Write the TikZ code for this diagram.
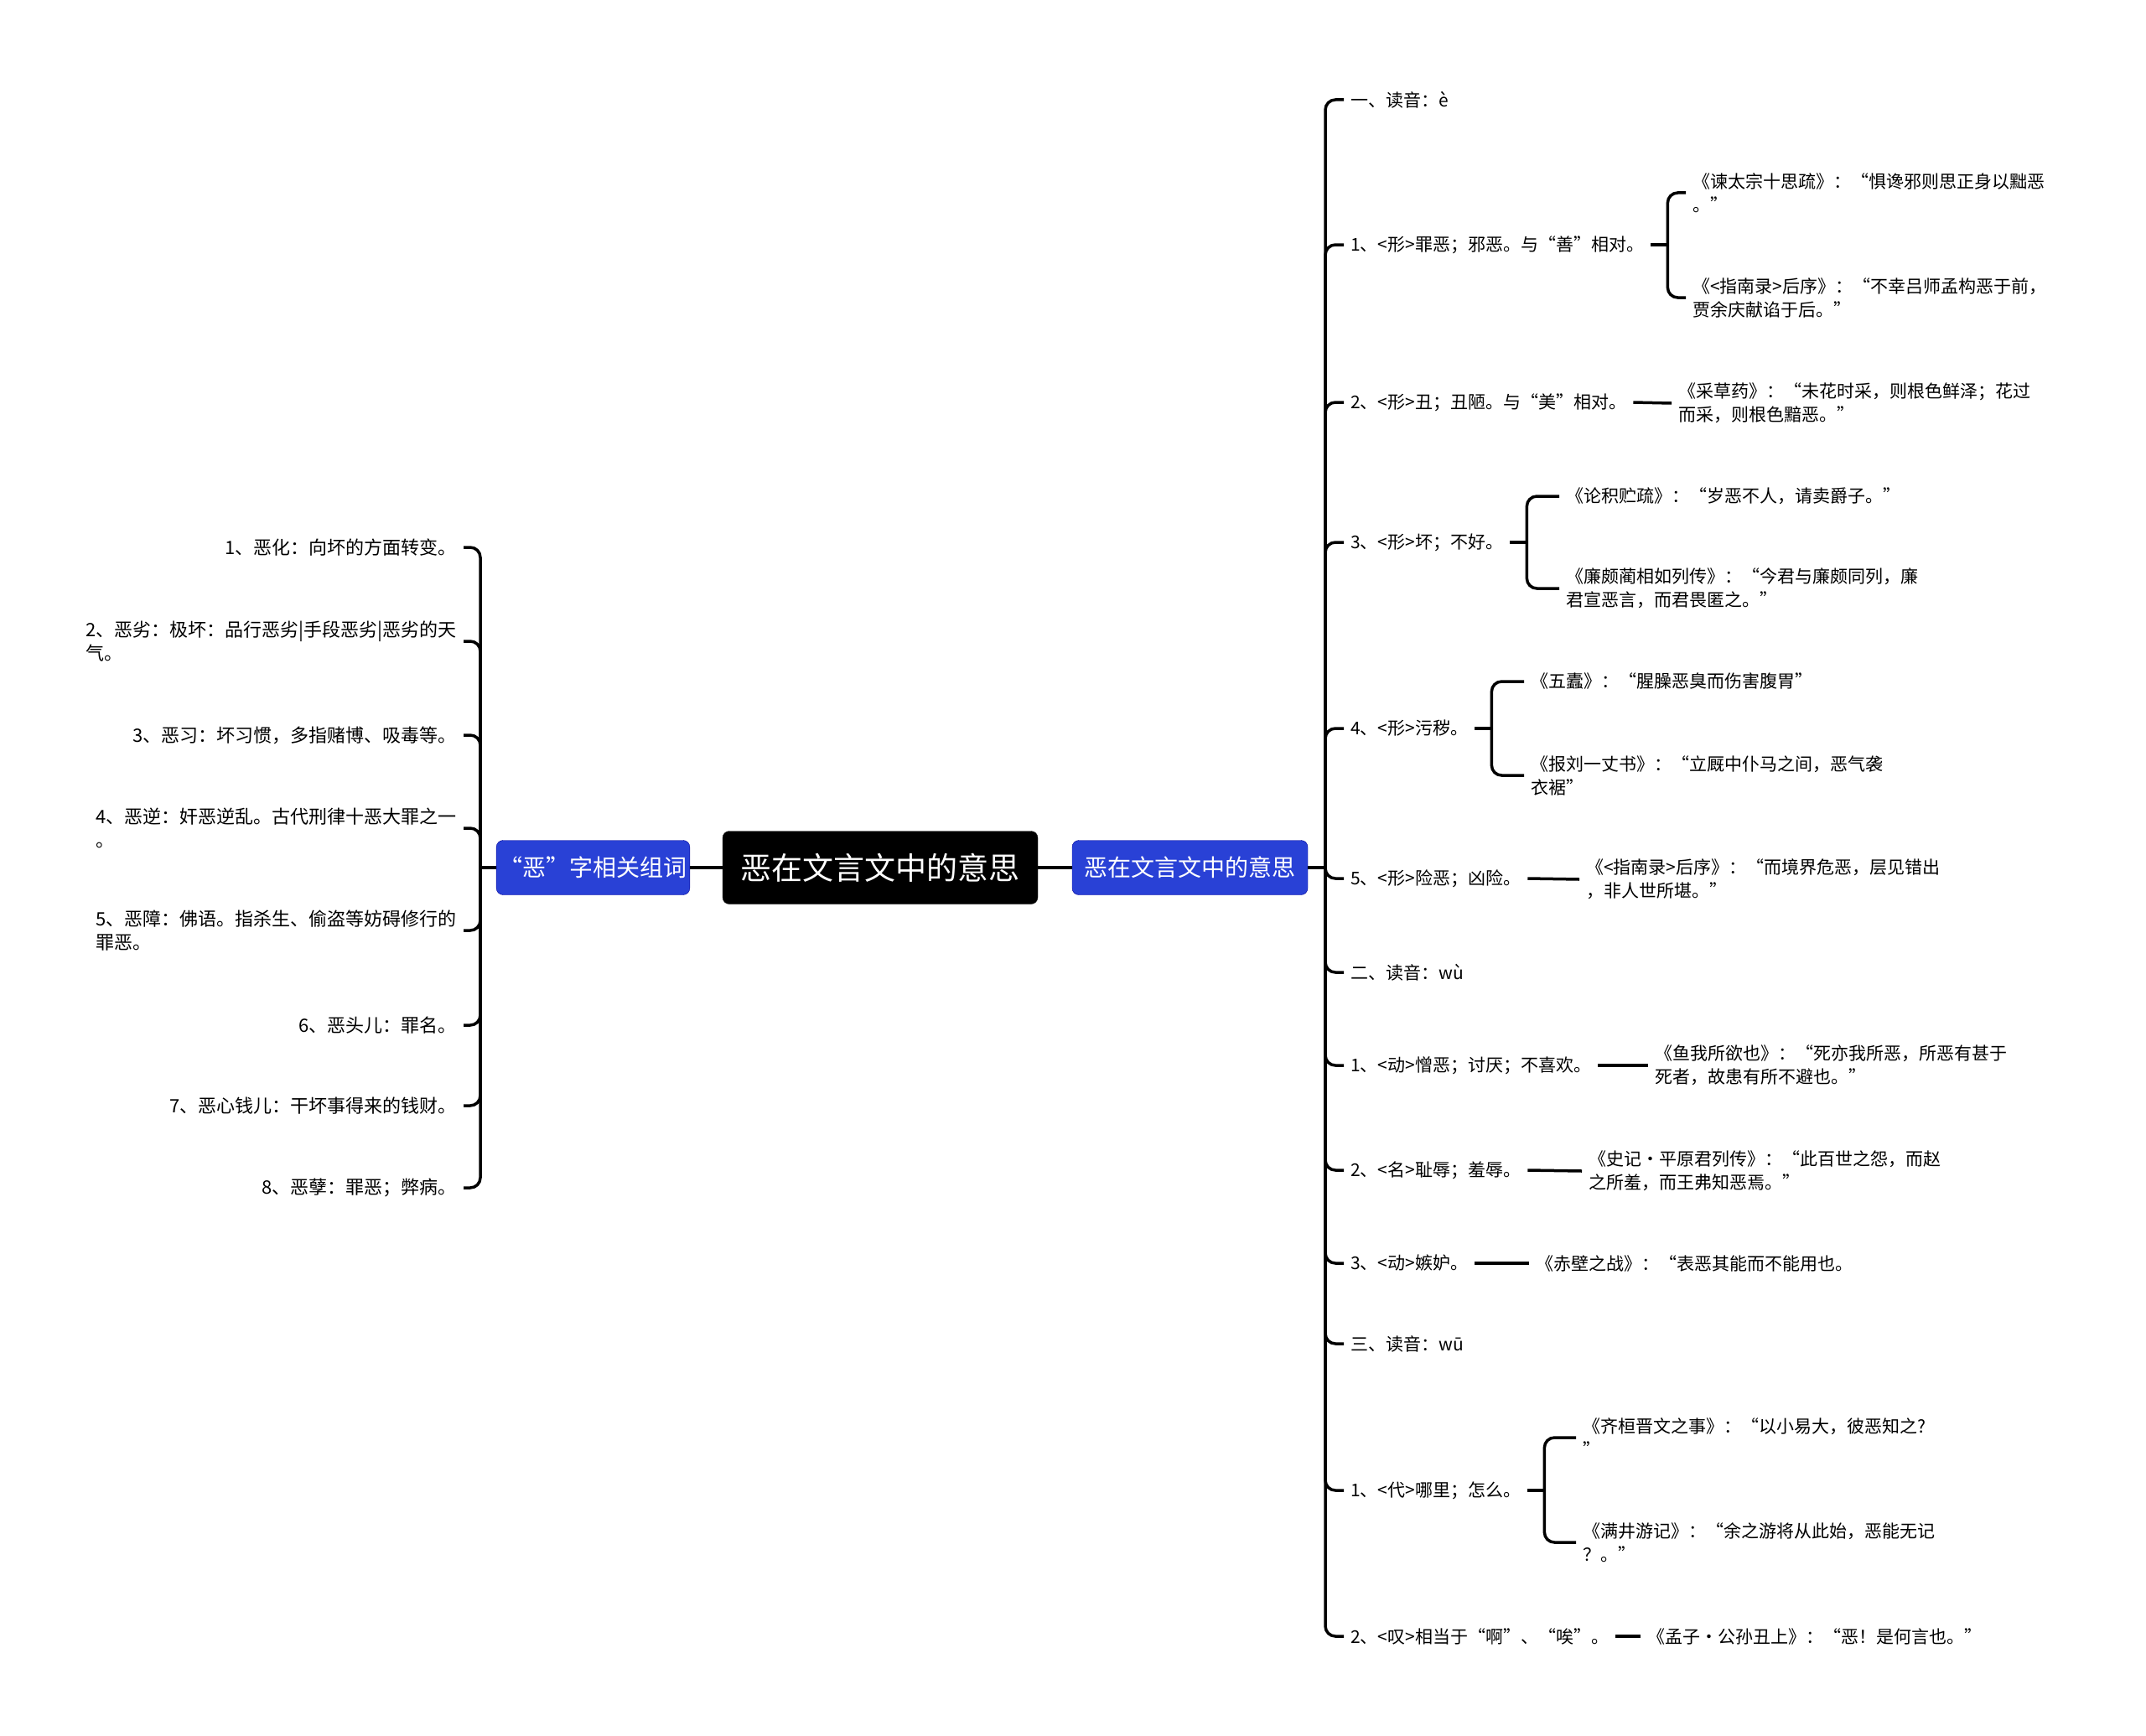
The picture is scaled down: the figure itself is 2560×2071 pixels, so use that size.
\documentclass[tikz,border=0pt]{standalone}
\usepackage{fontspec}
\setmainfont{Noto Sans CJK SC}
\usepackage{tikz}
\usetikzlibrary{positioning, calc}

\begin{document}
\begin{tikzpicture}[
    x=1pt, y=-1pt,
    root/.style={rectangle, draw=black!85, fill=black, text=white, rounded corners=8pt,
                 minimum width=376pt, minimum height=87pt, font=\fontsize{37}{44}\selectfont},
    topic/.style={rectangle, draw=blue!60!black, fill=topicblue, text=white, rounded corners=8pt,
                  minimum height=65pt, font=\fontsize{28}{34}\selectfont},
    leaf/.style={inner xsep=8pt, inner ysep=2pt, align=left, font=\fontsize{21}{28}\selectfont},
    leftleaf/.style={leaf, anchor=east, font=\fontsize{22}{28}\selectfont},
    link/.style={line width=3.5pt, black, rounded corners=12pt}
]
    \definecolor{topicblue}{RGB}{41,65,214}
    \useasboundingbox (0,0) rectangle (2560,2071);

    % Root and the two topics
    \node[root] (root) at (1050,1035) {恶在文言文中的意思};
    \node[topic, minimum width=281pt] (rb) at (1419.5,1035) {恶在文言文中的意思};
    \node[topic, minimum width=227pt] (lb) at (707.5,1035) {“恶”字相关组词};

    \draw[link] (lb.east) -- (root.west);
    \draw[link] (root.east) -- (rb.west);

    % Left branch
    \coordinate (lspine) at (573,1035);
    \node[leftleaf] (l1) at (553,653) {1、恶化：向坏的方面转变。};
    \node[leftleaf] (l2) at (553,765) {2、恶劣：极坏：品行恶劣|手段恶劣|恶劣的天\\气。};
    \node[leftleaf] (l3) at (553,877) {3、恶习：坏习惯，多指赌博、吸毒等。};
    \node[leftleaf] (l4) at (553,988) {4、恶逆：奸恶逆乱。古代刑律十恶大罪之一\\。};
    \node[leftleaf] (l5) at (553,1110) {5、恶障：佛语。指杀生、偷盗等妨碍修行的\\罪恶。};
    \node[leftleaf] (l6) at (553,1223) {6、恶头儿：罪名。};
    \node[leftleaf] (l7) at (553,1319) {7、恶心钱儿：干坏事得来的钱财。};
    \node[leftleaf] (l8) at (553,1417) {8、恶孽：罪恶；弊病。};

    \draw[link] (lb.west) -- (lspine);
    \foreach \n in {l1,l2,l3,l4,l5,l6,l7,l8}
        \draw[link] (lspine) |- (\n.east);

    % Right branch
    \coordinate (rspine) at (1581,1035);
    \node[leaf, anchor=west] (e0) at (1603,119) {一、读音：è};
    \node[leaf, anchor=west] (e1) at (1603,292) {1、<形>罪恶；邪恶。与“善”相对。};
    \node[leaf, anchor=west] (e2) at (1603,480) {2、<形>丑；丑陋。与“美”相对。};
    \node[leaf, anchor=west] (e3) at (1603,647) {3、<形>坏；不好。};
    \node[leaf, anchor=west] (e4) at (1603,869) {4、<形>污秽。};
    \node[leaf, anchor=west] (e5) at (1603,1048) {5、<形>险恶；凶险。};
    \node[leaf, anchor=west] (w0) at (1603,1160) {二、读音：wù};
    \node[leaf, anchor=west] (w1) at (1603,1271) {1、<动>憎恶；讨厌；不喜欢。};
    \node[leaf, anchor=west] (w2) at (1603,1396) {2、<名>耻辱；羞辱。};
    \node[leaf, anchor=west] (w3) at (1603,1507) {3、<动>嫉妒。};
    \node[leaf, anchor=west] (u0) at (1603,1603) {三、读音：wū};
    \node[leaf, anchor=west] (u1) at (1603,1778) {1、<代>哪里；怎么。};
    \node[leaf, anchor=west] (u2) at (1603,1952) {2、<叹>相当于“啊”、“唉”。};

    \draw[link] (rb.east) -- (rspine);
    \foreach \n in {e0,e1,e2,e3,e4,e5,w0,w1,w2,w3,u0,u1,u2}
        \draw[link] (rspine) |- (\n.west);

    % Quotations
    \node[leaf, anchor=west] (e1a) at (2011,230) {《谏太宗十思疏》：“惧谗邪则思正身以黜恶\\。”};
    \node[leaf, anchor=west] (e1b) at (2011,355) {《<指南录>后序》：“不幸吕师孟构恶于前，\\贾余庆献谄于后。”};
    \node[leaf, anchor=west] (e2a) at (1994,481) {《采草药》：“未花时采，则根色鲜泽；花过\\而采，则根色黯恶。”};
    \node[leaf, anchor=west] (e3a) at (1860,592) {《论积贮疏》：“岁恶不人，请卖爵子。”};
    \node[leaf, anchor=west] (e3b) at (1860,702) {《廉颇蔺相如列传》：“今君与廉颇同列，廉\\君宣恶言，而君畏匿之。”};
    \node[leaf, anchor=west] (e4a) at (1818,813) {《五蠹》：“腥臊恶臭而伤害腹胃”};
    \node[leaf, anchor=west] (e4b) at (1818,925) {《报刘一丈书》：“立厩中仆马之间，恶气袭\\衣裾”};
    \node[leaf, anchor=west] (e5a) at (1884,1049) {《<指南录>后序》：“而境界危恶，层见错出\\，非人世所堪。”};
    \node[leaf, anchor=west] (w1a) at (1966,1271) {《鱼我所欲也》：“死亦我所恶，所恶有甚于\\死者，故患有所不避也。”};
    \node[leaf, anchor=west] (w2a) at (1887,1397) {《史记·平原君列传》：“此百世之怨，而赵\\之所羞，而王弗知恶焉。”};
    \node[leaf, anchor=west] (w3a) at (1824,1507) {《赤壁之战》：“表恶其能而不能用也。};
    \node[leaf, anchor=west] (u1a) at (1880,1715) {《齐桓晋文之事》：“以小易大，彼恶知之?\\”};
    \node[leaf, anchor=west] (u1b) at (1880,1840) {《满井游记》：“余之游将从此始，恶能无记\\？。”};
    \node[leaf, anchor=west] (u2a) at (1957,1952) {《孟子·公孙丑上》：“恶！是何言也。”};

    % Brackets and links to quotations
    \draw[link] (e1.east) -- ++(20,0) coordinate (e1j);
    \draw[link] (e1j) |- (e1a.west);
    \draw[link] (e1j) |- (e1b.west);
    \draw[link] (e2.east) -- (e2a.west);
    \draw[link] (e3.east) -- ++(20,0) coordinate (e3j);
    \draw[link] (e3j) |- (e3a.west);
    \draw[link] (e3j) |- (e3b.west);
    \draw[link] (e4.east) -- ++(20,0) coordinate (e4j);
    \draw[link] (e4j) |- (e4a.west);
    \draw[link] (e4j) |- (e4b.west);
    \draw[link] (e5.east) -- (e5a.west);
    \draw[link] (w1.east) -- (w1a.west);
    \draw[link] (w2.east) -- (w2a.west);
    \draw[link] (w3.east) -- (w3a.west);
    \draw[link] (u1.east) -- ++(20,0) coordinate (u1j);
    \draw[link] (u1j) |- (u1a.west);
    \draw[link] (u1j) |- (u1b.west);
    \draw[link] (u2.east) -- (u2a.west);

\end{tikzpicture}
\end{document}
